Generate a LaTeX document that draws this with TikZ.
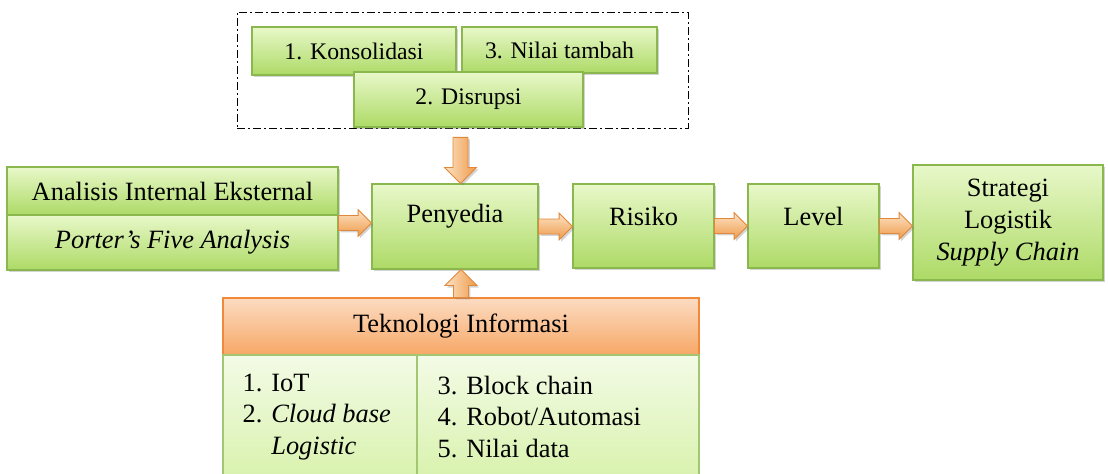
\documentclass[tikz,border=0pt]{standalone}
\usepackage{fontspec}
\setmainfont{Liberation Serif}
\usetikzlibrary{calc,shadows}
\newlength\pxu \setlength\pxu{0.75pt}
\definecolor{gtop}{HTML}{E8F8C9}
\definecolor{gbot}{HTML}{ADDA66}
\definecolor{gedge}{HTML}{8BB84E}
\definecolor{otop}{HTML}{FCDCC2}
\definecolor{obot}{HTML}{F7A766}
\definecolor{oedge}{HTML}{F08A3A}
\definecolor{ltop}{HTML}{F3FBE6}
\definecolor{lbot}{HTML}{D9F2AE}
\definecolor{alight}{HTML}{FDE3C4}
\definecolor{adark}{HTML}{EE9A4A}
\definecolor{aedge}{HTML}{E0873A}
\tikzset{
  shad/.style={drop shadow={shadow xshift=1.5pt,shadow yshift=-1.5pt,opacity=0.35}},
  gbox/.style={draw=gedge, line width=0.8pt, top color=gtop, bottom color=gbot,
    inner sep=0pt, align=center, font=\fontsize{19.8}{24}\selectfont, shad},
  sbox/.style={gbox, font=\fontsize{17.8}{21}\selectfont},
  ohead/.style={draw=oedge, line width=0.8pt, top color=otop, bottom color=obot,
    inner sep=0pt, font=\fontsize{19.8}{24}\selectfont},
  lbody/.style={draw=gedge!80, line width=0.8pt, top color=ltop, bottom color=lbot, inner sep=0pt},
  ltext/.style={anchor=west, inner sep=0pt, align=left, font=\fontsize{19.8}{23.8}\selectfont},
  dashbox/.style={draw=black, line width=0.6pt, dash pattern=on 6pt off 2.5pt on 1pt off 2.5pt},
  blockarr/.style={draw=aedge, line width=0.6pt, top color=alight, bottom color=adark, shad},
  vblockarr/.style={draw=aedge, line width=0.6pt, left color=alight, right color=adark, shad}
}
\newcommand{\up}[1]{\raisebox{10\pxu}[\height][\depth]{#1}}
\newcommand{\harr}[2]{\path[blockarr] let \p1=(#1), \p2=(#2) in
  (\x1,\y1+5.6pt) -- (\x2-10pt,\y1+5.6pt) -- (\x2-10pt,\y1+10pt) -- (\x2,\y1)
  -- (\x2-10pt,\y1-10pt) -- (\x2-10pt,\y1-5.6pt) -- (\x1,\y1-5.6pt) -- cycle;}
\newcommand{\darr}[2]{\path[vblockarr] let \p1=(#1), \p2=(#2) in
  (\x1-5.6pt,\y1) -- (\x1-5.6pt,\y2+12pt) -- (\x1-12pt,\y2+12pt) -- (\x1,\y2)
  -- (\x1+12pt,\y2+12pt) -- (\x1+5.6pt,\y2+12pt) -- (\x1+5.6pt,\y1) -- cycle;}
\newcommand{\uarr}[2]{\path[vblockarr] let \p1=(#1), \p2=(#2) in
  (\x1-5.6pt,\y1) -- (\x1-5.6pt,\y2-12pt) -- (\x1-12pt,\y2-12pt) -- (\x1,\y2)
  -- (\x1+12pt,\y2-12pt) -- (\x1+5.6pt,\y2-12pt) -- (\x1+5.6pt,\y1) -- cycle;}
\begin{document}
\begin{tikzpicture}[x=0.75pt,y=-0.75pt]
\useasboundingbox (0,0) rectangle (1108,474);
% dashed group
\node[dashbox, minimum width=451*\pxu, minimum height=116*\pxu] (grp) at (462.5,70) {};
\node[sbox, minimum width=204*\pxu, minimum height=48*\pxu] (kon) at (354,51) {1. Konsolidasi};
\node[sbox, minimum width=195*\pxu, minimum height=46*\pxu] (nil) at (559.5,50) {3. Nilai tambah};
\node[sbox, minimum width=229*\pxu, minimum height=55*\pxu] (dis) at (468.5,99.5) {2. Disrupsi};
% main row
\node[gbox, minimum width=331*\pxu, minimum height=48*\pxu] (ana) at (172.5,191) {Analisis Internal Eksternal};
\node[gbox, minimum width=331*\pxu, minimum height=55*\pxu] (por) at (172.5,242.5) {\textit{Porter’s Five Analysis}};
\node[gbox, minimum width=166*\pxu, minimum height=85*\pxu] (pen) at (455,226.5) {\up{Penyedia}};
\node[gbox, minimum width=141*\pxu, minimum height=84*\pxu] (ris) at (643.5,226) {\up{Risiko}};
\node[gbox, minimum width=131*\pxu, minimum height=84*\pxu] (lev) at (813.5,226) {\up{Level}};
\node[gbox, minimum width=190*\pxu, minimum height=115*\pxu] (str) at (1008,222.5) {Strategi\\Logistik\\\textit{Supply Chain}};
% teknologi informasi
\node[ohead, minimum width=476*\pxu, minimum height=57*\pxu] (ti) at (461,326.5) {Teknologi Informasi};
\node[lbody, minimum width=194*\pxu, minimum height=122*\pxu] (til) at (320,416) {};
\node[lbody, minimum width=282*\pxu, minimum height=122*\pxu] (tir) at (558,416) {};
\node[ltext] (tilt) at ($(til.west)+(20,1)$) {1. IoT\\2. \textit{Cloud base}\\\phantom{2. }\textit{Logistic}};
\node[ltext] (tirt) at ($(tir.west)+(21,1)$) {3. Block chain\\4. Robot/Automasi\\5. Nilai data};
% arrows
\coordinate (yl) at (0,223);
\harr{por.east |- yl}{pen.west}
\harr{pen.east}{ris.west}
\harr{ris.east}{lev.west}
\harr{lev.east}{str.west}
\coordinate (dtop) at ($(grp.south)+(-2,9)$);
\darr{dtop}{pen.north}
\uarr{ti.north}{pen.south}
\end{tikzpicture}
\end{document}
